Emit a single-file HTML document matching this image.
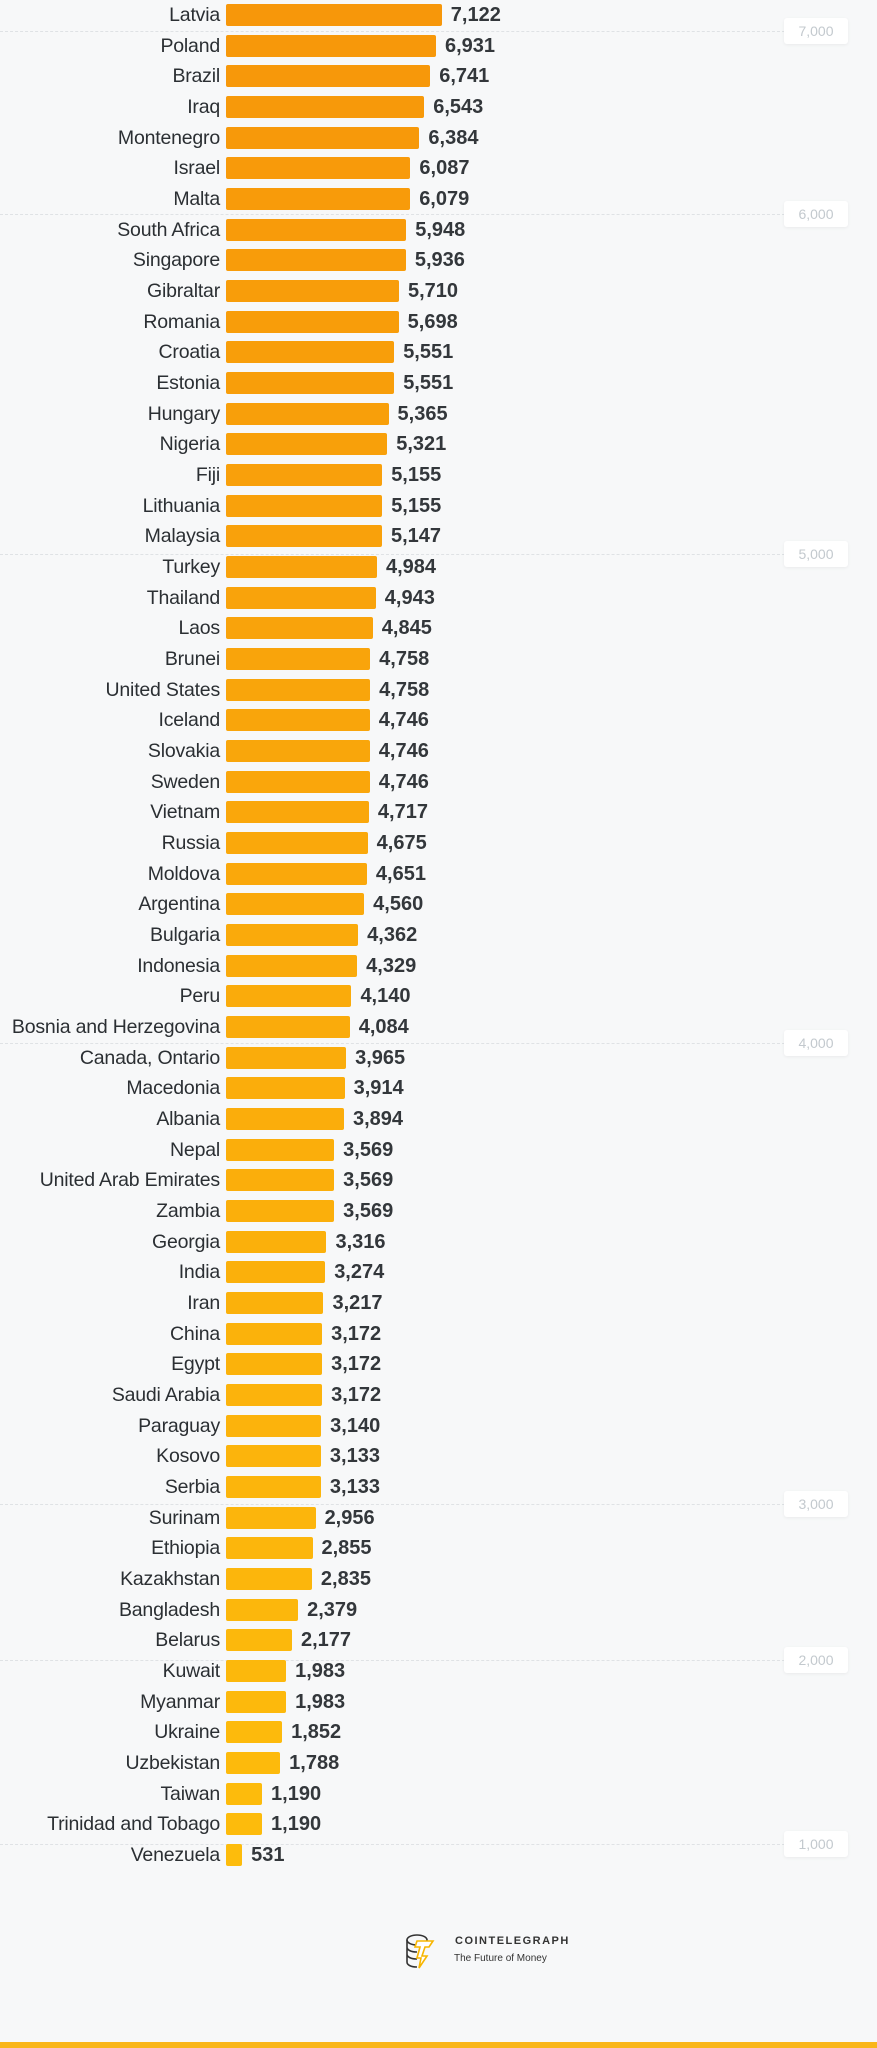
<!DOCTYPE html>
<html><head><meta charset="utf-8">
<style>
html,body{margin:0;padding:0}
body{width:877px;height:2048px;background:#f7f8f9;position:relative;overflow:hidden;font-family:"Liberation Sans",sans-serif}
.g{position:absolute;left:0;width:790px;border-top:1px dashed #dfe2e5}
.tb{position:absolute;left:784px;width:64px;height:26px;background:#fff;border-radius:3px;box-shadow:0 1px 3px rgba(0,0,0,.06);color:#c3c9ce;font-size:14px;text-align:center;line-height:26px}
.lb{position:absolute;right:657px;font-size:19.5px;color:#2b2f33;white-space:nowrap;line-height:22px;letter-spacing:-0.2px}
.bar{position:absolute;left:226px;height:22px;border-radius:2px}
.v{position:absolute;font-size:20px;font-weight:bold;color:#33373b;line-height:22px}
</style></head><body>
<div id="c"></div>
<div style="position:absolute;left:405px;top:1932px;width:26px;height:36px">
<svg width="30" height="38" viewBox="0 0 30 38"><g fill="none" stroke="#333" stroke-width="1.6"><ellipse cx="12" cy="8" rx="10" ry="5"/><path d="M2 8v22c0 3 4 5 10 5M2 15c0 3 4 5 10 5M2 22c0 3 4 5 10 5"/></g><path d="M12 9h16l-4 6h-4l-3 9h5l-8 12 2-10h-4l3-11h-5z" fill="#fff" stroke="#f7b500" stroke-width="1.6"/></svg></div>
<div style="position:absolute;left:455px;top:1935px;font-size:11px;font-weight:bold;letter-spacing:1.5px;color:#333">COINTELEGRAPH</div>
<div style="position:absolute;left:454px;top:1953px;font-size:10px;color:#333">The Future of Money</div>
<div style="position:absolute;left:0;top:2042px;width:877px;height:6px;background:#f9b61a"></div>
<script>
var d=[["Latvia",7122],["Poland",6931],["Brazil",6741],["Iraq",6543],["Montenegro",6384],["Israel",6087],["Malta",6079],["South Africa",5948],["Singapore",5936],["Gibraltar",5710],["Romania",5698],["Croatia",5551],["Estonia",5551],["Hungary",5365],["Nigeria",5321],["Fiji",5155],["Lithuania",5155],["Malaysia",5147],["Turkey",4984],["Thailand",4943],["Laos",4845],["Brunei",4758],["United States",4758],["Iceland",4746],["Slovakia",4746],["Sweden",4746],["Vietnam",4717],["Russia",4675],["Moldova",4651],["Argentina",4560],["Bulgaria",4362],["Indonesia",4329],["Peru",4140],["Bosnia and Herzegovina",4084],["Canada, Ontario",3965],["Macedonia",3914],["Albania",3894],["Nepal",3569],["United Arab Emirates",3569],["Zambia",3569],["Georgia",3316],["India",3274],["Iran",3217],["China",3172],["Egypt",3172],["Saudi Arabia",3172],["Paraguay",3140],["Kosovo",3133],["Serbia",3133],["Surinam",2956],["Ethiopia",2855],["Kazakhstan",2835],["Bangladesh",2379],["Belarus",2177],["Kuwait",1983],["Myanmar",1983],["Ukraine",1852],["Uzbekistan",1788],["Taiwan",1190],["Trinidad and Tobago",1190],["Venezuela",531]];
var h="";
var g=[[7000,31],[6000,214],[5000,554],[4000,1043],[3000,1504],[2000,1660],[1000,1844]];
g.forEach(function(a){h+='<div class="g" style="top:'+a[1]+'px"></div><div class="tb" style="top:'+(a[1]-13)+'px">'+a[0].toLocaleString("en-US")+'</div>';});
var n=d.length,p=(1855-15)/(n-1);
d.forEach(function(r,i){var cy=15+i*p,t=i/(n-1);
var col="rgb("+Math.round(247+6*t)+","+Math.round(151+37*t)+","+Math.round(10+2*t)+")";
var w=Math.max(12,r[1]*0.0303);
h+='<div class="lb" style="top:'+(cy-11)+'px">'+r[0]+'</div><div class="bar" style="top:'+(cy-11)+'px;width:'+w+'px;background:'+col+'"></div><div class="v" style="top:'+(cy-11)+'px;left:'+(226+w+9)+'px">'+r[1].toLocaleString("en-US")+'</div>';});
document.getElementById("c").innerHTML=h;
</script>
</body></html>
